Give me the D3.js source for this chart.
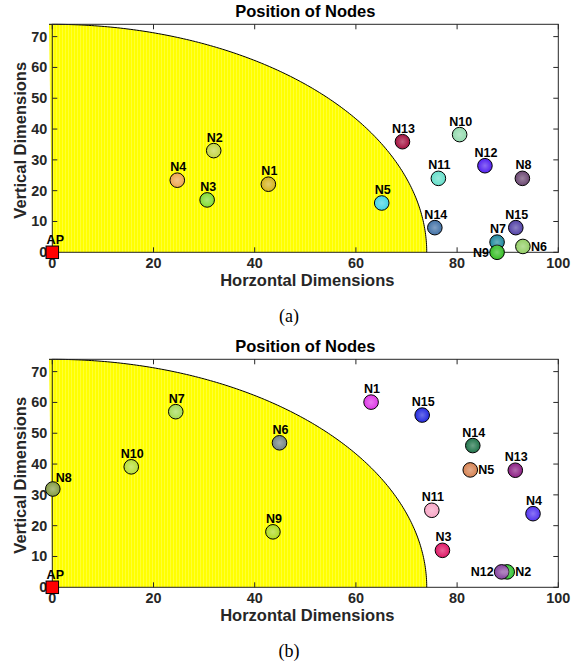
<!DOCTYPE html>
<html>
<head>
<meta charset="utf-8">
<script src="https://cdn.jsdelivr.net/npm/d3@7"></script>
<style>
    body { margin: 0; background: #fff; }
    svg text { font-family: "Liberation Sans", Arial, sans-serif; }
    svg text.caption { font-family: "Liberation Serif", "Times New Roman", serif; }
</style>
</head>
<body>
<div id="content"></div>
<script>
// ******* DATA *******
const nodeNames = ["N1", "N2", "N3", "N4", "N5", "N6", "N7", "N8", "N9", "N10", "N11", "N12", "N13", "N14", "N15"];

// (a) node positions
const xA = [42.7, 31.9, 30.6, 24.7, 65.1, 93.0, 87.9, 92.9, 87.9, 80.5, 76.3, 85.5, 69.2, 75.6, 91.6];
const yA = [22.1, 33.0, 17.0, 23.4, 16.0, 1.9, 3.3, 24.0, 0.0, 38.2, 24.0, 28.1, 35.9, 8.0, 8.0];

// (b) node positions
const xB = [63.0, 89.9, 77.1, 95.0, 82.6, 44.9, 24.4, 0.1, 43.6, 15.6, 75.0, 88.8, 91.5, 83.1, 73.1];
const yB = [60.1, 5.0, 12.0, 23.9, 38.1, 46.9, 57.0, 31.9, 18.0, 39.1, 25.0, 5.0, 38.0, 46.0, 55.9];

// access point and coverage radius
const apPos = [0, 0];
const coverageRadius = 74;

// axes
const xTicks = [0, 20, 40, 60, 80, 100];
const yTicks = [0, 10, 20, 30, 40, 50, 60, 70];
const xDomain = [0, 100];
const yDomain = [0, 74];

const titleText = "Position of Nodes";
const xLabelText = "Horzontal Dimensions";
const yLabelText = "Vertical Dimensions";

// ******* STYLES *******
const colorsA = ["#d6b626", "#c6d64c", "#88de3c", "#eeaa58", "#4cd6e6", "#98d06c", "#2a8ea2", "#725078",
    "#3ec02e", "#98dcb2", "#6ce0cc", "#5a2af0", "#a81c48", "#4a78aa", "#5a4aaa"];
const colorsB = ["#e042e8", "#3ec83e", "#e0226c", "#5a3cf0", "#d8885a", "#7a8a8a", "#a8dc5c", "#8aa04c",
    "#b2dc2a", "#bae03e", "#f8aac8", "#8a4aa2", "#922a8a", "#2a7a52", "#2c32e0"];

// label placements that differ from "above"
const labelSideA = { N6: "right", N9: "left" };
const labelSideB = { N8: "upright", N5: "right", N12: "left", N2: "right" };

const W = 586, H = 666;
const plotLeft = 52.3, plotRight = 558.3, plotHeight = 228;
const axisColor = "#262626";

const svg = d3.select("#content").append("svg")
    .attr("width", W)
    .attr("height", H);

// stripes to mimic the rendered fill, and a soft highlight for markers
const defs = svg.append("defs");
const stripe = defs.append("pattern")
    .attr("id", "stripes")
    .attr("patternUnits", "userSpaceOnUse")
    .attr("width", 3).attr("height", 10);
stripe.append("rect").attr("width", 3).attr("height", 10).attr("fill", "#ffff00");
stripe.append("rect").attr("x", 2).attr("width", 0.6).attr("height", 10).attr("fill", "#ffffa0").attr("opacity", 0.55);

const glow = defs.append("radialGradient").attr("id", "glow");
glow.append("stop").attr("offset", "0%").attr("stop-color", "#fff").attr("stop-opacity", 0.3);
glow.append("stop").attr("offset", "100%").attr("stop-color", "#fff").attr("stop-opacity", 0);

drawPanel(24.3, xA, yA, colorsA, labelSideA, "(a)");
drawPanel(359.3, xB, yB, colorsB, labelSideB, "(b)");

function drawPanel(top, xs, ys, colors, labelSide, caption) {
    const x = d3.scaleLinear().domain(xDomain).range([plotLeft, plotRight]);
    const y = d3.scaleLinear().domain(yDomain).range([top + plotHeight, top]);

    const g = svg.append("g");

    // coverage area (quarter circle around the AP)
    const angles = d3.range(0, 91, 0.5).map(a => a * Math.PI / 180);
    const arcPts = angles.map(a => [apPos[0] + coverageRadius * Math.cos(a), apPos[1] + coverageRadius * Math.sin(a)]);
    const line = d3.line().x(d => x(d[0])).y(d => y(d[1]));

    g.append("path")
        .attr("d", line([apPos].concat(arcPts)) + "Z")
        .attr("fill", "url(#stripes)");
    g.append("path")
        .attr("d", line(arcPts))
        .attr("fill", "none")
        .attr("stroke", "#000")
        .attr("stroke-width", 1);

    // axes: box with inward ticks on all four sides
    const tickLen = 5;
    const axes = g.append("g").attr("stroke", axisColor).attr("stroke-width", 1).attr("fill", "none");
    axes.append("rect")
        .attr("x", x(xDomain[0])).attr("y", y(yDomain[1]))
        .attr("width", x(xDomain[1]) - x(xDomain[0]))
        .attr("height", y(yDomain[0]) - y(yDomain[1]));
    xTicks.forEach(t => {
        axes.append("line").attr("x1", x(t)).attr("x2", x(t))
            .attr("y1", y(yDomain[0])).attr("y2", y(yDomain[0]) - tickLen);
        axes.append("line").attr("x1", x(t)).attr("x2", x(t))
            .attr("y1", y(yDomain[1])).attr("y2", y(yDomain[1]) + tickLen);
    });
    yTicks.forEach(t => {
        axes.append("line").attr("y1", y(t)).attr("y2", y(t))
            .attr("x1", x(xDomain[0])).attr("x2", x(xDomain[0]) + tickLen);
        axes.append("line").attr("y1", y(t)).attr("y2", y(t))
            .attr("x1", x(xDomain[1])).attr("x2", x(xDomain[1]) - tickLen);
    });

    // tick labels
    g.selectAll(".xt").data(xTicks).join("text")
        .attr("x", d => x(d))
        .attr("y", y(0) + 16)
        .attr("text-anchor", "middle")
        .attr("font-size", 14.4).attr("font-weight", "bold")
        .attr("fill", axisColor)
        .text(d => d);
    g.selectAll(".yt").data(yTicks).join("text")
        .attr("x", x(0) - 5)
        .attr("y", d => y(d) + 5)
        .attr("text-anchor", "end")
        .attr("font-size", 14.4).attr("font-weight", "bold")
        .attr("fill", axisColor)
        .text(d => d);

    // title and axis labels
    g.append("text")
        .attr("x", (plotLeft + plotRight) / 2).attr("y", top - 7)
        .attr("text-anchor", "middle")
        .attr("font-size", 16.5).attr("font-weight", "bold")
        .attr("fill", "#000")
        .text(titleText);
    g.append("text")
        .attr("x", (plotLeft + plotRight) / 2 + 2).attr("y", y(0) + 34)
        .attr("text-anchor", "middle")
        .attr("font-size", 16.5).attr("font-weight", "bold")
        .attr("fill", axisColor)
        .text(xLabelText);
    g.append("text")
        .attr("transform", `translate(${26},${top + plotHeight / 2 + 2}) rotate(-90)`)
        .attr("text-anchor", "middle")
        .attr("font-size", 16.5).attr("font-weight", "bold")
        .attr("fill", axisColor)
        .text(yLabelText);

    // caption
    g.append("text")
        .attr("class", "caption")
        .attr("x", 289).attr("y", y(0) + 70)
        .attr("text-anchor", "middle")
        .attr("font-size", 18)
        .attr("fill", "#000")
        .text(caption);

    // nodes
    const nodes = nodeNames.map((n, i) => ({ name: n, x: xs[i], y: ys[i], color: colors[i] }));
    const r = 7.3;
    g.selectAll(".node").data(nodes).join("circle")
        .attr("cx", d => x(d.x)).attr("cy", d => y(d.y)).attr("r", r)
        .attr("fill", d => d.color)
        .attr("stroke", "#000").attr("stroke-width", 1);
    g.selectAll(".nodeglow").data(nodes).join("circle")
        .attr("cx", d => x(d.x)).attr("cy", d => y(d.y)).attr("r", r - 1)
        .attr("fill", "url(#glow)");

    // access point
    const sq = 12.5;
    g.append("rect")
        .attr("x", x(apPos[0]) - sq / 2).attr("y", y(apPos[1]) - sq / 2)
        .attr("width", sq).attr("height", sq)
        .attr("fill", "#ff0000").attr("stroke", "#000").attr("stroke-width", 1);
    g.append("text")
        .attr("x", x(apPos[0]) + 3).attr("y", y(apPos[1]) - 8)
        .attr("text-anchor", "middle")
        .attr("font-size", 12.5).attr("font-weight", "bold")
        .text("AP");

    // node labels
    g.selectAll(".lbl").data(nodes).join("text")
        .attr("font-size", 12.5).attr("font-weight", "bold").attr("fill", "#000")
        .each(function (d) {
            const t = d3.select(this);
            const cx = x(d.x), cy = y(d.y);
            const side = labelSide[d.name] || "above";
            if (side === "right") {
                t.attr("x", cx + 8).attr("y", cy + 4.5).attr("text-anchor", "start");
            } else if (side === "left") {
                t.attr("x", cx - 8).attr("y", cy + 4.5).attr("text-anchor", "end");
            } else if (side === "upright") {
                t.attr("x", cx + 3).attr("y", cy - 7).attr("text-anchor", "start");
            } else {
                t.attr("x", cx + 1).attr("y", cy - 9).attr("text-anchor", "middle");
            }
        })
        .text(d => d.name);
}
</script>
</body>
</html>
